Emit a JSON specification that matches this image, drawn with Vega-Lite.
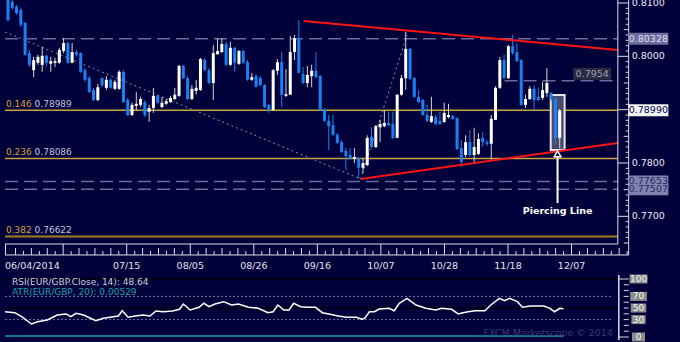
{
"$schema":"https://vega.github.io/schema/vega-lite/v6.json",
"width":680,"height":342,"autosize":"none","padding":0,
"background":"#00003a",
"config":{"view":{"stroke":null},"text":{"font":"DejaVu Sans"}},
"datasets":{
"candles":[
{"i":0,"o":0.8106,"h":0.8111,"l":0.8064,"c":0.8068},
{"i":1,"o":0.8102,"h":0.8111,"l":0.8087,"c":0.8091},
{"i":2,"o":0.8093,"h":0.8096,"l":0.8078,"c":0.8081},
{"i":3,"o":0.8087,"h":0.8091,"l":0.8055,"c":0.8059},
{"i":4,"o":0.8063,"h":0.8064,"l":0.8001,"c":0.8003},
{"i":5,"o":0.8006,"h":0.8012,"l":0.7980,"c":0.7984},
{"i":6,"o":0.7974,"h":0.7999,"l":0.7961,"c":0.7993},
{"i":7,"o":0.7988,"h":0.8003,"l":0.7984,"c":0.7999},
{"i":8,"o":0.7984,"h":0.8018,"l":0.7971,"c":0.8001},
{"i":9,"o":0.8001,"h":0.8003,"l":0.7982,"c":0.7988},
{"i":10,"o":0.7986,"h":0.7999,"l":0.7971,"c":0.7991},
{"i":11,"o":0.7988,"h":0.7997,"l":0.7980,"c":0.7991},
{"i":12,"o":0.7988,"h":0.8016,"l":0.7986,"c":0.8012},
{"i":13,"o":0.8010,"h":0.8034,"l":0.8006,"c":0.8025},
{"i":14,"o":0.8025,"h":0.8027,"l":0.7986,"c":0.7988},
{"i":15,"o":0.7988,"h":0.8025,"l":0.7987,"c":0.8008},
{"i":16,"o":0.8008,"h":0.8012,"l":0.7999,"c":0.8003},
{"i":17,"o":0.8006,"h":0.8008,"l":0.7969,"c":0.7971},
{"i":18,"o":0.7974,"h":0.7978,"l":0.7952,"c":0.7956},
{"i":19,"o":0.7959,"h":0.7963,"l":0.7931,"c":0.7933},
{"i":20,"o":0.7937,"h":0.7941,"l":0.7916,"c":0.7918},
{"i":21,"o":0.7918,"h":0.7948,"l":0.7916,"c":0.7942},
{"i":22,"o":0.7959,"h":0.7961,"l":0.7942,"c":0.7946},
{"i":23,"o":0.7941,"h":0.7963,"l":0.7937,"c":0.7956},
{"i":24,"o":0.7956,"h":0.7959,"l":0.7939,"c":0.7941},
{"i":25,"o":0.7939,"h":0.7956,"l":0.7937,"c":0.7952},
{"i":26,"o":0.7939,"h":0.7974,"l":0.7937,"c":0.7971},
{"i":27,"o":0.7971,"h":0.7974,"l":0.7913,"c":0.7914},
{"i":28,"o":0.7918,"h":0.7922,"l":0.7888,"c":0.7890},
{"i":29,"o":0.7890,"h":0.7913,"l":0.7888,"c":0.7909},
{"i":30,"o":0.7907,"h":0.7933,"l":0.7899,"c":0.7911},
{"i":31,"o":0.7909,"h":0.7924,"l":0.7905,"c":0.7920},
{"i":32,"o":0.7914,"h":0.7918,"l":0.7886,"c":0.7890},
{"i":33,"o":0.7896,"h":0.7909,"l":0.7877,"c":0.7903},
{"i":34,"o":0.7903,"h":0.7941,"l":0.7894,"c":0.7926},
{"i":35,"o":0.7926,"h":0.7928,"l":0.7911,"c":0.7913},
{"i":36,"o":0.7905,"h":0.7924,"l":0.7903,"c":0.7913},
{"i":37,"o":0.7911,"h":0.7920,"l":0.7909,"c":0.7916},
{"i":38,"o":0.7914,"h":0.7926,"l":0.7913,"c":0.7922},
{"i":39,"o":0.7920,"h":0.7941,"l":0.7918,"c":0.7928},
{"i":40,"o":0.7926,"h":0.7984,"l":0.7924,"c":0.7982},
{"i":41,"o":0.7982,"h":0.7984,"l":0.7958,"c":0.7959},
{"i":42,"o":0.7959,"h":0.7963,"l":0.7918,"c":0.7920},
{"i":43,"o":0.7920,"h":0.7946,"l":0.7918,"c":0.7939},
{"i":44,"o":0.7935,"h":0.7956,"l":0.7928,"c":0.7941},
{"i":45,"o":0.7937,"h":0.7997,"l":0.7935,"c":0.7995},
{"i":46,"o":0.7993,"h":0.7997,"l":0.7972,"c":0.7974},
{"i":47,"o":0.7974,"h":0.7978,"l":0.7948,"c":0.7950},
{"i":48,"o":0.7950,"h":0.8021,"l":0.7918,"c":0.8006},
{"i":49,"o":0.8004,"h":0.8034,"l":0.8003,"c":0.8010},
{"i":50,"o":0.8008,"h":0.8034,"l":0.8006,"c":0.8023},
{"i":51,"o":0.8023,"h":0.8027,"l":0.7982,"c":0.7984},
{"i":52,"o":0.7984,"h":0.8027,"l":0.7982,"c":0.8016},
{"i":53,"o":0.8016,"h":0.8018,"l":0.7971,"c":0.7988},
{"i":54,"o":0.7986,"h":0.8012,"l":0.7984,"c":0.8010},
{"i":55,"o":0.8010,"h":0.8012,"l":0.7986,"c":0.7988},
{"i":56,"o":0.7989,"h":0.7993,"l":0.7954,"c":0.7956},
{"i":57,"o":0.7956,"h":0.7969,"l":0.7954,"c":0.7961},
{"i":58,"o":0.7963,"h":0.7967,"l":0.7941,"c":0.7943},
{"i":59,"o":0.7959,"h":0.7963,"l":0.7944,"c":0.7946},
{"i":60,"o":0.7946,"h":0.7948,"l":0.7903,"c":0.7905},
{"i":61,"o":0.7909,"h":0.7911,"l":0.7894,"c":0.7899},
{"i":62,"o":0.7899,"h":0.7976,"l":0.7899,"c":0.7974},
{"i":63,"o":0.7973,"h":0.7995,"l":0.7965,"c":0.7989},
{"i":64,"o":0.7989,"h":0.8008,"l":0.7905,"c":0.7928},
{"i":65,"o":0.7926,"h":0.7976,"l":0.7924,"c":0.7929},
{"i":66,"o":0.7928,"h":0.8038,"l":0.7928,"c":0.8008},
{"i":67,"o":0.8008,"h":0.8040,"l":0.7993,"c":0.8034},
{"i":68,"o":0.8034,"h":0.8068,"l":0.7967,"c":0.7969},
{"i":69,"o":0.7967,"h":0.7980,"l":0.7948,"c":0.7950},
{"i":70,"o":0.7950,"h":0.7982,"l":0.7942,"c":0.7965},
{"i":71,"o":0.7963,"h":0.7984,"l":0.7942,"c":0.7973},
{"i":72,"o":0.7973,"h":0.8008,"l":0.7959,"c":0.7961},
{"i":73,"o":0.7963,"h":0.7965,"l":0.7898,"c":0.7899},
{"i":74,"o":0.7899,"h":0.7903,"l":0.7877,"c":0.7879},
{"i":75,"o":0.7879,"h":0.7890,"l":0.7824,"c":0.7869},
{"i":76,"o":0.7871,"h":0.7890,"l":0.7851,"c":0.7853},
{"i":77,"o":0.7853,"h":0.7856,"l":0.7836,"c":0.7838},
{"i":78,"o":0.7839,"h":0.7843,"l":0.7819,"c":0.7821},
{"i":79,"o":0.7823,"h":0.7828,"l":0.7787,"c":0.7813},
{"i":80,"o":0.7815,"h":0.7828,"l":0.7806,"c":0.7808},
{"i":81,"o":0.7808,"h":0.7828,"l":0.7800,"c":0.7811},
{"i":82,"o":0.7809,"h":0.7811,"l":0.7770,"c":0.7791},
{"i":83,"o":0.7791,"h":0.7809,"l":0.7781,"c":0.7800},
{"i":84,"o":0.7796,"h":0.7852,"l":0.7794,"c":0.7847},
{"i":85,"o":0.7849,"h":0.7867,"l":0.7828,"c":0.7830},
{"i":86,"o":0.7830,"h":0.7871,"l":0.7828,"c":0.7869},
{"i":87,"o":0.7867,"h":0.7881,"l":0.7839,"c":0.7873},
{"i":88,"o":0.7869,"h":0.7899,"l":0.7867,"c":0.7875},
{"i":89,"o":0.7875,"h":0.7896,"l":0.7869,"c":0.7871},
{"i":90,"o":0.7873,"h":0.7896,"l":0.7845,"c":0.7847},
{"i":91,"o":0.7847,"h":0.7929,"l":0.7847,"c":0.7928},
{"i":92,"o":0.7928,"h":0.7965,"l":0.7926,"c":0.7959},
{"i":93,"o":0.7959,"h":0.8046,"l":0.7937,"c":0.8014},
{"i":94,"o":0.8014,"h":0.8016,"l":0.7956,"c":0.7958},
{"i":95,"o":0.7959,"h":0.7961,"l":0.7922,"c":0.7924},
{"i":96,"o":0.7924,"h":0.7937,"l":0.7913,"c":0.7914},
{"i":97,"o":0.7918,"h":0.7920,"l":0.7888,"c":0.7890},
{"i":98,"o":0.7890,"h":0.7909,"l":0.7877,"c":0.7879},
{"i":99,"o":0.7877,"h":0.7924,"l":0.7875,"c":0.7888},
{"i":100,"o":0.7886,"h":0.7890,"l":0.7871,"c":0.7873},
{"i":101,"o":0.7879,"h":0.7896,"l":0.7871,"c":0.7873},
{"i":102,"o":0.7877,"h":0.7913,"l":0.7875,"c":0.7894},
{"i":103,"o":0.7886,"h":0.7911,"l":0.7884,"c":0.7890},
{"i":104,"o":0.7888,"h":0.7890,"l":0.7881,"c":0.7883},
{"i":105,"o":0.7884,"h":0.7886,"l":0.7824,"c":0.7826},
{"i":106,"o":0.7828,"h":0.7843,"l":0.7793,"c":0.7802},
{"i":107,"o":0.7815,"h":0.7852,"l":0.7811,"c":0.7839},
{"i":108,"o":0.7839,"h":0.7862,"l":0.7813,"c":0.7815},
{"i":109,"o":0.7815,"h":0.7866,"l":0.7802,"c":0.7830},
{"i":110,"o":0.7817,"h":0.7856,"l":0.7815,"c":0.7845},
{"i":111,"o":0.7847,"h":0.7858,"l":0.7830,"c":0.7839},
{"i":112,"o":0.7839,"h":0.7843,"l":0.7832,"c":0.7836},
{"i":113,"o":0.7836,"h":0.7890,"l":0.7806,"c":0.7883},
{"i":114,"o":0.7881,"h":0.7944,"l":0.7881,"c":0.7941},
{"i":115,"o":0.7941,"h":0.7999,"l":0.7939,"c":0.7993},
{"i":116,"o":0.7993,"h":0.8003,"l":0.7958,"c":0.7959},
{"i":117,"o":0.7959,"h":0.8021,"l":0.7958,"c":0.8019},
{"i":118,"o":0.8019,"h":0.8040,"l":0.8003,"c":0.8006},
{"i":119,"o":0.8008,"h":0.8025,"l":0.7989,"c":0.7991},
{"i":120,"o":0.7993,"h":0.7995,"l":0.7907,"c":0.7909},
{"i":121,"o":0.7909,"h":0.7928,"l":0.7903,"c":0.7920},
{"i":122,"o":0.7920,"h":0.7944,"l":0.7918,"c":0.7939},
{"i":123,"o":0.7939,"h":0.7946,"l":0.7899,"c":0.7918},
{"i":124,"o":0.7924,"h":0.7941,"l":0.7916,"c":0.7918},
{"i":125,"o":0.7922,"h":0.7952,"l":0.7918,"c":0.7937},
{"i":126,"o":0.7931,"h":0.7978,"l":0.7924,"c":0.7950},
{"i":127,"o":0.7931,"h":0.7933,"l":0.7916,"c":0.7920},
{"i":128,"o":0.7920,"h":0.7924,"l":0.7837,"c":0.7847},
{"i":129,"o":0.7847,"h":0.7901,"l":0.7828,"c":0.7899}
],
"rsi":[
{"i":-0.7,"v":43.6},{"i":1.6,"v":41.9},{"i":3.2,"v":35.0},{"i":5.5,"v":22.4},{"i":6.9,"v":26.4},{"i":9.2,"v":29.3},{"i":11.5,"v":37.9},{"i":13.6,"v":39.7},{"i":14.7,"v":35.0},{"i":15.9,"v":40.9},{"i":17.7,"v":37.9},{"i":20.5,"v":28.1},{"i":22.3,"v":32.2},{"i":24.6,"v":35.0},{"i":25.8,"v":36.2},{"i":26.7,"v":45.3},{"i":28.1,"v":34.0},{"i":29.7,"v":36.2},{"i":31.6,"v":37.9},{"i":33.2,"v":36.2},{"i":34.6,"v":44.8},{"i":36.2,"v":43.6},{"i":38.5,"v":44.8},{"i":40.1,"v":47.8},{"i":41.0,"v":56.9},{"i":42.6,"v":46.6},{"i":44.7,"v":51.2},{"i":45.8,"v":58.1},{"i":47.0,"v":52.2},{"i":48.4,"v":56.9},{"i":50.4,"v":60.9},{"i":52.3,"v":55.2},{"i":53.9,"v":56.9},{"i":56.2,"v":51.2},{"i":58.5,"v":49.5},{"i":60.8,"v":41.9},{"i":62.0,"v":43.6},{"i":63.1,"v":55.2},{"i":64.5,"v":46.6},{"i":65.7,"v":46.6},{"i":66.8,"v":58.1},{"i":68.4,"v":52.2},{"i":70.0,"v":51.2},{"i":71.9,"v":51.2},{"i":73.5,"v":41.9},{"i":75.3,"v":39.1},{"i":77.2,"v":36.2},{"i":79.2,"v":34.0},{"i":81.5,"v":34.0},{"i":82.7,"v":30.5},{"i":83.4,"v":32.2},{"i":84.5,"v":43.6},{"i":85.7,"v":43.6},{"i":86.8,"v":48.3},{"i":89.1,"v":49.5},{"i":90.3,"v":45.3},{"i":91.5,"v":58.1},{"i":93.3,"v":66.7},{"i":95.4,"v":55.2},{"i":97.7,"v":49.5},{"i":100.0,"v":46.6},{"i":101.4,"v":49.5},{"i":103.7,"v":47.8},{"i":105.3,"v":39.7},{"i":106.4,"v":41.9},{"i":107.6,"v":43.6},{"i":109.2,"v":45.3},{"i":111.5,"v":45.3},{"i":112.9,"v":55.2},{"i":114.9,"v":66.7},{"i":116.1,"v":62.6},{"i":117.3,"v":66.7},{"i":119.1,"v":60.9},{"i":120.3,"v":51.2},{"i":122.1,"v":53.4},{"i":125.3,"v":53.4},{"i":126.7,"v":49.5},{"i":127.8,"v":43.6},{"i":129.0,"v":49.5},{"i":129.9,"v":48.64}
],
"fib":[
{"p":0.78989,"lvl":"0.146","val":"0.78989","a":-0.7,"b":142.59},
{"p":0.78086,"lvl":"0.236","val":"0.78086","a":-0.7,"b":142.59},
{"p":0.76622,"lvl":"0.382","val":"0.76622","a":-0.7,"b":142.59}
],
"dash":[
{"p":0.80328,"a":-0.7,"b":142.59},
{"p":0.77653,"a":-0.7,"b":142.59},
{"p":0.77507,"a":-0.7,"b":142.59},
{"p":0.7954,"a":116.1,"b":142.59}
],
"trend":[
{"a":69.11,"pa":0.80662,"b":142.59,"pb":0.80119},
{"a":82.47,"pa":0.777,"b":142.59,"pb":0.78375}
],
"dots":[
{"a":-0.7,"pa":0.80456,"b":82.47,"pb":0.777},
{"a":82.47,"pa":0.777,"b":93.3,"pb":0.804}
],
"hl":[{"a":126.9,"b":130.15,"pa":0.79275,"pb":0.78244}],
"arrow":[{"i":128.5,"pa":0.7814,"pb":0.7725,"tip":0.78172,"lab":0.7710,"t":"Piercing Line"}],
"frame":[
{"a":142.59,"b":142.59,"pa":0.81056,"pb":0.76481},
{"a":145.13,"b":145.13,"pa":0.81056,"pb":0.76275},
{"a":-0.7,"b":142.59,"pa":0.76481,"pb":0.76481},
{"a":-0.7,"b":145.13,"pa":0.76275,"pb":0.76275},
{"a":-0.58,"b":-0.58,"pa":0.76481,"pb":0.76275}
],
"pmaj":[{"p":0.81},{"p":0.80},{"p":0.79},{"p":0.78},{"p":0.77}],
"pminS":[{"p":0.766},{"p":0.767},{"p":0.768},{"p":0.769},{"p":0.771},{"p":0.772},{"p":0.773},{"p":0.774},{"p":0.776},{"p":0.777},{"p":0.778},{"p":0.779},{"p":0.781},{"p":0.782},{"p":0.783},{"p":0.784},{"p":0.786},{"p":0.787},{"p":0.788},{"p":0.789},{"p":0.791},{"p":0.792},{"p":0.793},{"p":0.794},{"p":0.796},{"p":0.797},{"p":0.798},{"p":0.799},{"p":0.801},{"p":0.802},{"p":0.803},{"p":0.804},{"p":0.806},{"p":0.807},{"p":0.808},{"p":0.809}],
"pminL":[{"p":0.765},{"p":0.775},{"p":0.785},{"p":0.795},{"p":0.805}],
"xmaj":[{"i":12.90},{"i":27.76},{"i":42.62},{"i":57.48},{"i":72.33},{"i":87.19},{"i":102.05},{"i":116.91},{"i":131.77}],
"xminT":[{"i":1.76},{"i":5.47},{"i":9.19},{"i":16.61},{"i":20.33},{"i":24.04},{"i":31.48},{"i":35.19},{"i":38.90},{"i":46.34},{"i":50.05},{"i":53.76},{"i":61.20},{"i":64.91},{"i":68.62},{"i":76.05},{"i":79.76},{"i":83.47},{"i":90.91},{"i":94.62},{"i":98.33},{"i":105.77},{"i":109.48},{"i":113.19},{"i":120.63},{"i":124.34},{"i":128.05},{"i":135.49},{"i":139.20},{"i":142.91}],
"xminS":[{"i":3.61},{"i":7.33},{"i":11.04},{"i":14.76},{"i":18.47},{"i":22.19},{"i":25.90},{"i":29.62},{"i":33.33},{"i":37.05},{"i":40.76},{"i":44.48},{"i":48.19},{"i":51.91},{"i":55.62},{"i":59.34},{"i":63.05},{"i":66.77},{"i":70.48},{"i":74.19},{"i":77.90},{"i":81.62},{"i":85.33},{"i":89.05},{"i":92.76},{"i":96.48},{"i":100.19},{"i":103.91},{"i":107.62},{"i":111.34},{"i":115.05},{"i":118.77},{"i":122.48},{"i":126.20},{"i":129.91},{"i":133.63},{"i":137.34},{"i":141.06},{"i":144.77}],
"dates":[{"i":-0.7,"t":"06/04/2014"},{"i":27.76,"t":"07/15"},{"i":42.62,"t":"08/05"},{"i":57.48,"t":"08/26"},{"i":72.33,"t":"09/16"},{"i":87.19,"t":"10/07"},{"i":102.05,"t":"10/28"},{"i":116.91,"t":"11/18"},{"i":131.77,"t":"12/07"}],
"plabels":[{"p":0.81,"t":"0.8100"},{"p":0.80,"t":"0.8000"},{"p":0.78,"t":"0.7800"},{"p":0.77,"t":"0.7700"}],
"boxes":[{"p":0.80328,"t":"0.80328","g":"a"},{"p":0.7899,"t":"0.78990","g":"c"},{"p":0.77653,"t":"0.77653","g":"b"},{"p":0.77507,"t":"0.77507","g":"b"}],
"mid":[{"p":0.7954,"t":"0.7954"}],
"rlines":[{"v":100,"g":"s"},{"v":50,"g":"s"},{"v":70,"g":"d"},{"v":30,"g":"d"}],
"rlab":[{"v":100,"t":"100"},{"v":70,"t":"70"},{"v":50,"t":"50"},{"v":30,"t":"30"},{"v":0,"t":"0"}],
"rmaj":[{"v":100},{"v":0}],
"rmin":[{"v":90},{"v":80},{"v":70},{"v":60},{"v":50},{"v":40},{"v":30},{"v":20},{"v":10}]
},
"layer":[
{"layer":[
{"data":{"name":"fib"},"transform":[{"filter":"datum.lvl != '0.382'"}],"mark":{"type":"rule","color":"#c9a23c","strokeWidth":1.5},
 "encoding":{"x":{"field":"a","type":"quantitative","scale":{"domain":[-0.7,155.96],"nice":false,"zero":false},"axis":null},"x2":{"field":"b"},"y":{"field":"p","type":"quantitative","scale":{"domain":[0.746435,0.81056],"nice":false,"zero":false},"axis":null}}},
{"data":{"name":"fib"},"transform":[{"filter":"datum.lvl == '0.382'"}],"mark":{"type":"rule","color":"#a27c1f","strokeWidth":2},
 "encoding":{"x":{"field":"a","type":"quantitative","scale":{"domain":[-0.7,155.96],"nice":false,"zero":false},"axis":null},"x2":{"field":"b"},"y":{"field":"p","type":"quantitative","scale":{"domain":[0.746435,0.81056],"nice":false,"zero":false},"axis":null}}},
{"data":{"name":"fib"},"mark":{"type":"text","align":"left","baseline":"middle","dy":-6,"fontSize":9,"color":"#d2a53a"},
 "encoding":{"x":{"datum":-0.46,"type":"quantitative","scale":{"domain":[-0.7,155.96],"nice":false,"zero":false},"axis":null},"y":{"field":"p","type":"quantitative","scale":{"domain":[0.746435,0.81056],"nice":false,"zero":false},"axis":null},"text":{"field":"lvl"}}},
{"data":{"name":"fib"},"mark":{"type":"text","align":"left","baseline":"middle","dy":-6,"fontSize":9,"color":"#c4c4dc"},
 "encoding":{"x":{"datum":6.22,"type":"quantitative","scale":{"domain":[-0.7,155.96],"nice":false,"zero":false},"axis":null},"y":{"field":"p","type":"quantitative","scale":{"domain":[0.746435,0.81056],"nice":false,"zero":false},"axis":null},"text":{"field":"val"}}},
{"data":{"name":"dash"},"mark":{"type":"rule","color":"#6a6a9c","strokeWidth":1.5,"strokeDash":[13,6]},
 "encoding":{"x":{"field":"a","type":"quantitative","scale":{"domain":[-0.7,155.96],"nice":false,"zero":false},"axis":null},"x2":{"field":"b"},"y":{"field":"p","type":"quantitative","scale":{"domain":[0.746435,0.81056],"nice":false,"zero":false},"axis":null}}},
{"data":{"name":"dots"},"mark":{"type":"rule","color":"#8e8e9e","strokeWidth":1,"strokeDash":[2,3]},
 "encoding":{"x":{"field":"a","type":"quantitative","scale":{"domain":[-0.7,155.96],"nice":false,"zero":false},"axis":null},"x2":{"field":"b"},"y":{"field":"pa","type":"quantitative","scale":{"domain":[0.746435,0.81056],"nice":false,"zero":false},"axis":null},"y2":{"field":"pb"}}},
{"data":{"name":"hl"},"mark":{"type":"rect","fill":"#4a4a6c","stroke":"#e6e6e6","strokeWidth":2},
 "encoding":{"x":{"field":"a","type":"quantitative","scale":{"domain":[-0.7,155.96],"nice":false,"zero":false},"axis":null},"x2":{"field":"b"},"y":{"field":"pa","type":"quantitative","scale":{"domain":[0.746435,0.81056],"nice":false,"zero":false},"axis":null},"y2":{"field":"pb"}}},
{"data":{"name":"candles"},"mark":{"type":"rule","strokeWidth":1},
 "encoding":{"x":{"field":"i","type":"quantitative","scale":{"domain":[-0.7,155.96],"nice":false,"zero":false},"axis":null},"y":{"field":"l","type":"quantitative","scale":{"domain":[0.746435,0.81056],"nice":false,"zero":false},"axis":null},"y2":{"field":"h"},
 "color":{"condition":{"test":"datum.c >= datum.o","value":"#d4d4d4"},"value":"#1a82f0"}}},
{"data":{"name":"candles"},"mark":{"type":"bar","size":3},
 "encoding":{"x":{"field":"i","type":"quantitative","scale":{"domain":[-0.7,155.96],"nice":false,"zero":false},"axis":null},"y":{"field":"o","type":"quantitative","scale":{"domain":[0.746435,0.81056],"nice":false,"zero":false},"axis":null},"y2":{"field":"c"},
 "color":{"condition":{"test":"datum.c >= datum.o","value":"#ffffff"},"value":"#1a82f0"}}},
{"data":{"name":"trend"},"mark":{"type":"rule","color":"#ff1414","strokeWidth":2},
 "encoding":{"x":{"field":"a","type":"quantitative","scale":{"domain":[-0.7,155.96],"nice":false,"zero":false},"axis":null},"x2":{"field":"b"},"y":{"field":"pa","type":"quantitative","scale":{"domain":[0.746435,0.81056],"nice":false,"zero":false},"axis":null},"y2":{"field":"pb"}}},
{"data":{"name":"arrow"},"mark":{"type":"rule","color":"#ffffff","strokeWidth":2},
 "encoding":{"x":{"field":"i","type":"quantitative","scale":{"domain":[-0.7,155.96],"nice":false,"zero":false},"axis":null},"y":{"field":"pa","type":"quantitative","scale":{"domain":[0.746435,0.81056],"nice":false,"zero":false},"axis":null},"y2":{"field":"pb"}}},
{"data":{"name":"arrow"},"mark":{"type":"point","shape":"triangle-up","size":45,"filled":true,"fill":"#00003a","stroke":"#ffffff","strokeWidth":1.5,"opacity":1},
 "encoding":{"x":{"field":"i","type":"quantitative","scale":{"domain":[-0.7,155.96],"nice":false,"zero":false},"axis":null},"y":{"field":"tip","type":"quantitative","scale":{"domain":[0.746435,0.81056],"nice":false,"zero":false},"axis":null}}},
{"data":{"name":"arrow"},"mark":{"type":"text","align":"center","baseline":"middle","fontSize":9.5,"fontWeight":"bold","color":"#ffffff"},
 "encoding":{"x":{"field":"i","type":"quantitative","scale":{"domain":[-0.7,155.96],"nice":false,"zero":false},"axis":null},"y":{"field":"lab","type":"quantitative","scale":{"domain":[0.746435,0.81056],"nice":false,"zero":false},"axis":null},"text":{"field":"t"}}},
{"data":{"name":"frame"},"mark":{"type":"rule","color":"#dcdce4","strokeWidth":1},
 "encoding":{"x":{"field":"a","type":"quantitative","scale":{"domain":[-0.7,155.96],"nice":false,"zero":false},"axis":null},"x2":{"field":"b"},"y":{"field":"pa","type":"quantitative","scale":{"domain":[0.746435,0.81056],"nice":false,"zero":false},"axis":null},"y2":{"field":"pb"}}},
{"data":{"name":"pmaj"},"mark":{"type":"rule","color":"#dcdce4","strokeWidth":1},
 "encoding":{"x":{"datum":142.59,"type":"quantitative","scale":{"domain":[-0.7,155.96],"nice":false,"zero":false},"axis":null},"x2":{"datum":145.13},"y":{"field":"p","type":"quantitative","scale":{"domain":[0.746435,0.81056],"nice":false,"zero":false},"axis":null}}},
{"data":{"name":"pminS"},"mark":{"type":"rule","color":"#dcdce4","strokeWidth":1},
 "encoding":{"x":{"datum":144.43,"type":"quantitative","scale":{"domain":[-0.7,155.96],"nice":false,"zero":false},"axis":null},"x2":{"datum":145.13},"y":{"field":"p","type":"quantitative","scale":{"domain":[0.746435,0.81056],"nice":false,"zero":false},"axis":null}}},
{"data":{"name":"pminL"},"mark":{"type":"rule","color":"#dcdce4","strokeWidth":1},
 "encoding":{"x":{"datum":143.97,"type":"quantitative","scale":{"domain":[-0.7,155.96],"nice":false,"zero":false},"axis":null},"x2":{"datum":145.13},"y":{"field":"p","type":"quantitative","scale":{"domain":[0.746435,0.81056],"nice":false,"zero":false},"axis":null}}},
{"data":{"name":"xmaj"},"mark":{"type":"rule","color":"#dcdce4","strokeWidth":1},
 "encoding":{"x":{"field":"i","type":"quantitative","scale":{"domain":[-0.7,155.96],"nice":false,"zero":false},"axis":null},"y":{"datum":0.76481,"type":"quantitative","scale":{"domain":[0.746435,0.81056],"nice":false,"zero":false},"axis":null},"y2":{"datum":0.76275}}},
{"data":{"name":"xminT"},"mark":{"type":"rule","color":"#dcdce4","strokeWidth":1},
 "encoding":{"x":{"field":"i","type":"quantitative","scale":{"domain":[-0.7,155.96],"nice":false,"zero":false},"axis":null},"y":{"datum":0.76406,"type":"quantitative","scale":{"domain":[0.746435,0.81056],"nice":false,"zero":false},"axis":null},"y2":{"datum":0.76275}}},
{"data":{"name":"xminS"},"mark":{"type":"rule","color":"#dcdce4","strokeWidth":1},
 "encoding":{"x":{"field":"i","type":"quantitative","scale":{"domain":[-0.7,155.96],"nice":false,"zero":false},"axis":null},"y":{"datum":0.7635,"type":"quantitative","scale":{"domain":[0.746435,0.81056],"nice":false,"zero":false},"axis":null},"y2":{"datum":0.76275}}},
{"data":{"name":"dates"},"transform":[{"filter":"datum.i < 0"}],"mark":{"type":"text","align":"left","baseline":"middle","fontSize":9.5,"color":"#e4e4ec"},
 "encoding":{"x":{"field":"i","type":"quantitative","scale":{"domain":[-0.7,155.96],"nice":false,"zero":false},"axis":null},"y":{"datum":0.76069,"type":"quantitative","scale":{"domain":[0.746435,0.81056],"nice":false,"zero":false},"axis":null},"text":{"field":"t"}}},
{"data":{"name":"dates"},"transform":[{"filter":"datum.i > 0"}],"mark":{"type":"text","align":"center","baseline":"middle","fontSize":9.5,"color":"#e4e4ec"},
 "encoding":{"x":{"field":"i","type":"quantitative","scale":{"domain":[-0.7,155.96],"nice":false,"zero":false},"axis":null},"y":{"datum":0.76069,"type":"quantitative","scale":{"domain":[0.746435,0.81056],"nice":false,"zero":false},"axis":null},"text":{"field":"t"}}},
{"data":{"name":"plabels"},"mark":{"type":"text","align":"left","baseline":"middle","fontSize":9.5,"color":"#e8e8f0"},
 "encoding":{"x":{"datum":145.82,"type":"quantitative","scale":{"domain":[-0.7,155.96],"nice":false,"zero":false},"axis":null},"y":{"field":"p","type":"quantitative","scale":{"domain":[0.746435,0.81056],"nice":false,"zero":false},"axis":null},"text":{"field":"t"}}},
{"data":{"name":"boxes"},"mark":{"type":"tick","orient":"horizontal","size":40,"thickness":12,"opacity":1},
 "encoding":{"x":{"datum":149.73,"type":"quantitative","scale":{"domain":[-0.7,155.96],"nice":false,"zero":false},"axis":null},"y":{"field":"p","type":"quantitative","scale":{"domain":[0.746435,0.81056],"nice":false,"zero":false},"axis":null},
 "color":{"condition":[{"test":"datum.g == 'a'","value":"#6e6e9e"},{"test":"datum.g == 'b'","value":"#8282b2"}],"value":"#f2f2f2"}}},
{"data":{"name":"boxes"},"mark":{"type":"text","align":"center","baseline":"middle","fontSize":9.5},
 "encoding":{"x":{"datum":149.73,"type":"quantitative","scale":{"domain":[-0.7,155.96],"nice":false,"zero":false},"axis":null},"y":{"field":"p","type":"quantitative","scale":{"domain":[0.746435,0.81056],"nice":false,"zero":false},"axis":null},"text":{"field":"t"},
 "color":{"condition":[{"test":"datum.g == 'a'","value":"#dcdcf0"},{"test":"datum.g == 'b'","value":"#2a2a58"}],"value":"#000050"}}},
{"data":{"name":"mid"},"mark":{"type":"tick","orient":"horizontal","size":38,"thickness":12,"opacity":1,"color":"#2a2a42","yOffset":-7},
 "encoding":{"x":{"datum":136.6,"type":"quantitative","scale":{"domain":[-0.7,155.96],"nice":false,"zero":false},"axis":null},"y":{"field":"p","type":"quantitative","scale":{"domain":[0.746435,0.81056],"nice":false,"zero":false},"axis":null}}},
{"data":{"name":"mid"},"mark":{"type":"text","align":"center","baseline":"middle","fontSize":9.5,"color":"#a0a0b4","dy":-7},
 "encoding":{"x":{"datum":136.6,"type":"quantitative","scale":{"domain":[-0.7,155.96],"nice":false,"zero":false},"axis":null},"y":{"field":"p","type":"quantitative","scale":{"domain":[0.746435,0.81056],"nice":false,"zero":false},"axis":null},"text":{"field":"t"}}}
]},
{"layer":[
{"data":{"name":"rlines"},"transform":[{"filter":"datum.g == 's'"}],"mark":{"type":"rule","color":"#000008","strokeWidth":1.5},
 "encoding":{"x":{"datum":-0.7,"type":"quantitative","scale":{"domain":[-0.7,155.96],"nice":false,"zero":false},"axis":null},"x2":{"datum":142.59},"y":{"field":"v","type":"quantitative","scale":{"domain":[-8.62,581.04],"nice":false,"zero":false},"axis":null}}},
{"data":{"name":"rlines"},"transform":[{"filter":"datum.g == 'd'"}],"mark":{"type":"rule","color":"#7a7aa6","strokeWidth":1,"strokeDash":[2,2]},
 "encoding":{"x":{"datum":-0.7,"type":"quantitative","scale":{"domain":[-0.7,155.96],"nice":false,"zero":false},"axis":null},"x2":{"datum":141.5},"y":{"field":"v","type":"quantitative","scale":{"domain":[-8.62,581.04],"nice":false,"zero":false},"axis":null}}},
{"data":{"values":[{}]},"mark":{"type":"rule","color":"#0fa0a8","strokeWidth":1.5},
 "encoding":{"x":{"datum":-0.7,"type":"quantitative","scale":{"domain":[-0.7,155.96],"nice":false,"zero":false},"axis":null},"x2":{"datum":129.9},"y":{"datum":1.7,"type":"quantitative","scale":{"domain":[-8.62,581.04],"nice":false,"zero":false},"axis":null}}},
{"data":{"name":"rsi"},"mark":{"type":"line","color":"#ffffff","strokeWidth":1.5},
 "encoding":{"x":{"field":"i","type":"quantitative","scale":{"domain":[-0.7,155.96],"nice":false,"zero":false},"axis":null},"y":{"field":"v","type":"quantitative","scale":{"domain":[-8.62,581.04],"nice":false,"zero":false},"axis":null}}},
{"data":{"values":[{}]},"mark":{"type":"text","align":"left","baseline":"middle","fontSize":9,"color":"#d0d0da"},
 "encoding":{"x":{"datum":0.92,"type":"quantitative","scale":{"domain":[-0.7,155.96],"nice":false,"zero":false},"axis":null},"y":{"datum":94.8,"type":"quantitative","scale":{"domain":[-8.62,581.04],"nice":false,"zero":false},"axis":null},"text":{"value":"RSI(EUR/GBP.Close, 14): 48.64"}}},
{"data":{"values":[{}]},"mark":{"type":"text","align":"left","baseline":"middle","fontSize":9,"color":"#18a4ac"},
 "encoding":{"x":{"datum":0.92,"type":"quantitative","scale":{"domain":[-0.7,155.96],"nice":false,"zero":false},"axis":null},"y":{"datum":77.6,"type":"quantitative","scale":{"domain":[-8.62,581.04],"nice":false,"zero":false},"axis":null},"text":{"value":"ATR(EUR/GBP, 20): 0.00529"}}},
{"data":{"values":[{}]},"mark":{"type":"text","align":"right","baseline":"middle","fontSize":9.5,"color":"#3a3a78"},
 "encoding":{"x":{"datum":141.44,"type":"quantitative","scale":{"domain":[-0.7,155.96],"nice":false,"zero":false},"axis":null},"y":{"datum":6.9,"type":"quantitative","scale":{"domain":[-8.62,581.04],"nice":false,"zero":false},"axis":null},"text":{"value":"FXCM Marketscope © 2014"}}},
{"data":{"values":[{}]},"mark":{"type":"rule","color":"#dcdce4","strokeWidth":1.5},
 "encoding":{"x":{"datum":142.82,"type":"quantitative","scale":{"domain":[-0.7,155.96],"nice":false,"zero":false},"axis":null},"y":{"datum":106.9,"type":"quantitative","scale":{"domain":[-8.62,581.04],"nice":false,"zero":false},"axis":null},"y2":{"datum":-5.2}}},
{"data":{"name":"rmaj"},"mark":{"type":"rule","color":"#dcdce4","strokeWidth":1},
 "encoding":{"x":{"datum":142.82,"type":"quantitative","scale":{"domain":[-0.7,155.96],"nice":false,"zero":false},"axis":null},"x2":{"datum":145.13},"y":{"field":"v","type":"quantitative","scale":{"domain":[-8.62,581.04],"nice":false,"zero":false},"axis":null}}},
{"data":{"name":"rmin"},"mark":{"type":"rule","color":"#dcdce4","strokeWidth":1},
 "encoding":{"x":{"datum":143.97,"type":"quantitative","scale":{"domain":[-0.7,155.96],"nice":false,"zero":false},"axis":null},"x2":{"datum":145.13},"y":{"field":"v","type":"quantitative","scale":{"domain":[-8.62,581.04],"nice":false,"zero":false},"axis":null}}},
{"data":{"name":"rlab"},"mark":{"type":"tick","orient":"horizontal","thickness":9,"opacity":1,"color":"#8c8c8c"},
 "encoding":{"x":{"datum":147.43,"type":"quantitative","scale":{"domain":[-0.7,155.96],"nice":false,"zero":false},"axis":null},"y":{"field":"v","type":"quantitative","scale":{"domain":[-8.62,581.04],"nice":false,"zero":false},"axis":null},
 "size":{"field":"t","type":"nominal","scale":{"domain":["100","70","50","30","0"],"range":[18,13,13,13,8]},"legend":null}}},
{"data":{"name":"rlab"},"mark":{"type":"text","align":"center","baseline":"middle","fontSize":9,"color":"#f4f4f4"},
 "encoding":{"x":{"datum":147.43,"type":"quantitative","scale":{"domain":[-0.7,155.96],"nice":false,"zero":false},"axis":null},"y":{"field":"v","type":"quantitative","scale":{"domain":[-8.62,581.04],"nice":false,"zero":false},"axis":null},"text":{"field":"t"}}}
]}
],
"resolve":{"scale":{"y":"independent"}}
}
